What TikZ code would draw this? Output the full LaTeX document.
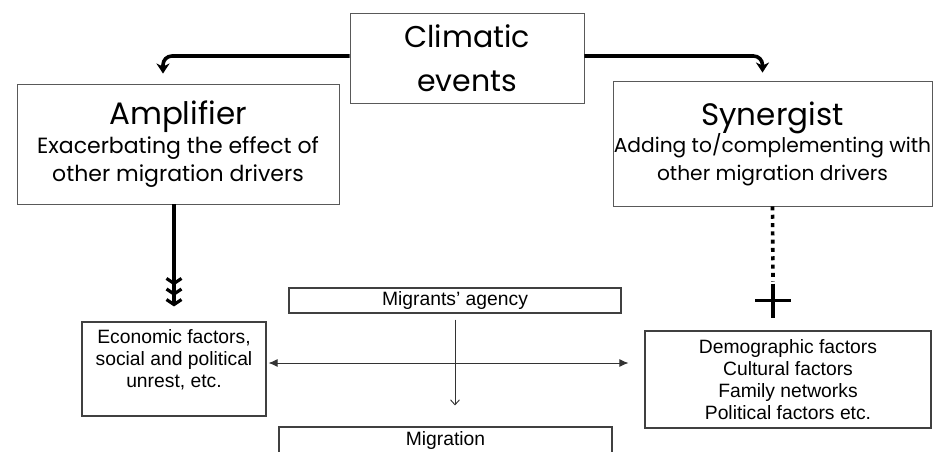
\documentclass[tikz,border=0pt]{standalone}
\usepackage{fontspec}
\setmainfont{Liberation Sans}
\newfontfamily\geofont{Poppins}
\usetikzlibrary{arrows.meta}

\tikzset{
  topbox/.style={draw=black!65, line width=0.9pt, align=center, inner sep=0pt},
  lowbox/.style={draw=black!75, line width=1.1pt, align=center, inner sep=0pt,
    font=\fontsize{19.3}{21.8}\selectfont},
  bendarrow/.style={line width=3.6pt, rounded corners=9pt,
    -{Stealth[length=10pt,width=13pt,inset=3pt]}},
  chevarrow/.style={line width=3.6pt,
    -{Straight Barb[length=5pt,width=15pt,line width=3.2pt,sep=2pt]
      Straight Barb[length=5pt,width=15pt,line width=3.2pt,sep=2pt]
      Straight Barb[length=5pt,width=15pt,line width=3.2pt]}},
  dotline/.style={line width=3.6pt, dash pattern=on 4pt off 4.3pt},
  plusline/.style={line width=3.4pt},
  thinarrow/.style={draw=black!80, line width=0.9pt, -{Straight Barb[length=5pt,width=9pt]}},
  bothways/.style={draw=black!80, line width=1pt,
    {Latex[length=9pt,width=8pt]}-{Latex[length=9pt,width=8pt]}}
}

\begin{document}
\begin{tikzpicture}[x=1pt,y=-1pt]
\clip (0,0) rectangle (934,452);
\fill[white] (0,0) rectangle (934,452);

\node[topbox, minimum width=234pt, minimum height=90pt,
  font=\geofont\fontsize{30}{44}\selectfont] (clim) at (467,58) {Climatic\\events};
\node[topbox, minimum width=322pt, minimum height=120pt,
  font=\geofont\fontsize{22}{28}\selectfont] (ampl) at (178,144)
  {{\fontsize{31}{31}\selectfont Amplifier}\\[1pt]Exacerbating the effect of\\other migration drivers};
\node[topbox, minimum width=319pt, minimum height=125pt,
  font=\geofont\fontsize{20.2}{28}\selectfont] (syn) at (772.5,143.5)
  {{\fontsize{31}{31}\selectfont Synergist}\\[-1pt]Adding to/complementing with\\other migration drivers};

\node[lowbox, minimum width=184pt, minimum height=94pt,
  label={[lowbox, draw=none, anchor=north, yshift=-7.5pt]north:Economic factors,\\social and political\\unrest, etc.}]
  (econ) at (174,369) {};
\node[lowbox, minimum width=332pt, minimum height=25pt] (agency) at (455,300.5) {Migrants’ agency};
\node[lowbox, minimum width=286pt, minimum height=97pt] (demo) at (788,379.5)
  {Demographic factors\\Cultural factors\\Family networks\\Political factors etc.};
\node[lowbox, minimum width=333pt, minimum height=28pt] (migr) at (445.5,441) {Migration};

\coordinate (plus) at (773,300.5);
\coordinate (midrow) at (0,363);

\draw[bendarrow] ([yshift=2pt]clim.west) -| ([xshift=-15pt,yshift=10pt]ampl.north);
\draw[bendarrow] ([yshift=2pt]clim.east) -| ([xshift=-10pt,yshift=8pt]syn.north);
\draw[chevarrow, shorten >=15pt] (econ.north |- ampl.south) -- (econ.north);
\draw[dotline] (syn.south) -- ([yshift=19pt]plus);
\draw[plusline] ([yshift=17pt]plus) -- ([yshift=-17pt]plus);
\draw[plusline] ([xshift=-18pt]plus) -- ([xshift=18pt]plus);
\draw[thinarrow, shorten <=6pt, shorten >=21pt] (agency.south) -- (agency.south |- migr.north);
\draw[bothways, shorten <=2pt, shorten >=16pt] (econ.east |- midrow) -- (demo.west |- midrow);
\end{tikzpicture}
\end{document}
